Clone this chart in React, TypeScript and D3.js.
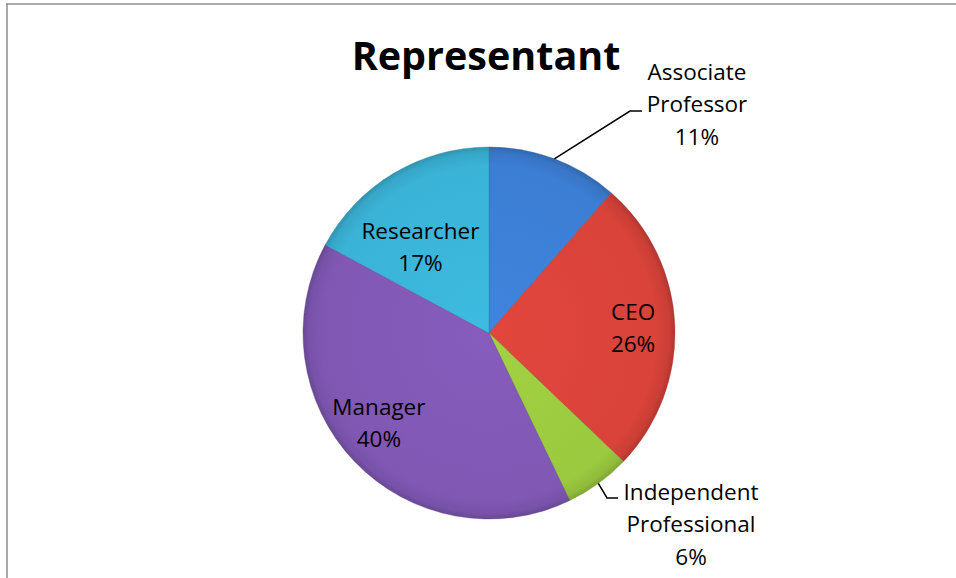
import React from "react";
import * as d3 from "d3";

const categories = ["Associate Professor", "CEO", "Independent Professional", "Manager", "Researcher"];
const counts = [4, 9, 2, 14, 6];
const percentLabels = ["11%", "26%", "6%", "40%", "17%"];
const labelLines = [["Associate", "Professor"], ["CEO"], ["Independent", "Professional"], ["Manager"], ["Researcher"]];
const colors = ["#3C7ED4", "#D9433A", "#9BC93F", "#8058B4", "#3AB3D7"];
const title = "Representant";

const W = 956;
const H = 578;
const cx = 489;
const cy = 333;
const R = 186;
const FONT = "'Open Sans', 'Noto Sans', sans-serif";

// label layout (style config): inside labels by polar offset from slice middle,
// outside labels by block position with a leader line
const inside: Record<string, { rf: number; da: number }> = {
  CEO: { rf: 0.775, da: 0.6 },
  Manager: { rf: 0.765, da: 4.4 },
  Researcher: { rf: 0.59, da: -7.8 },
};
const outside: Record<string, { x: number; b1: number; elbow: [number, number]; end: number }> = {
  "Associate Professor": { x: 697, b1: 80, elbow: [630, 111], end: 642 },
  "Independent Professional": { x: 691, b1: 500, elbow: [607, 498], end: 618 },
};

export default function App() {
  const pie = d3.pie<number>().sort(null).value((d) => d);
  const arcs = pie(counts);
  const arcGen = d3.arc<d3.PieArcDatum<number>>().innerRadius(0).outerRadius(R);

  return (
    <svg
      width={W}
      height={H}
      style={{ position: "absolute", left: 0, top: 0, background: "#fff" }}
      fontFamily={FONT}
    >
      <defs>
        {colors.map((c, i) => {
          const base = d3.color(c)!;
          return (
            <radialGradient key={i} id={`g${i}`} gradientUnits="userSpaceOnUse" cx={0} cy={0} r={R}>
              <stop offset="0%" stopColor={base.brighter(0.12).toString()} />
              <stop offset="90%" stopColor={c} />
              <stop offset="97%" stopColor={base.darker(0.2).toString()} />
              <stop offset="100%" stopColor={base.darker(0.55).toString()} />
            </radialGradient>
          );
        })}
      </defs>
      <rect x={0} y={0} width={W} height={H} fill="#fff" />
      <line x1={6} y1={4} x2={W} y2={4} stroke="#8c8c8c" strokeWidth={1.5} />
      <line x1={7} y1={4} x2={7} y2={H} stroke="#8c8c8c" strokeWidth={1.5} />

      <text x={486} y={70} textAnchor="middle" fontSize={39.5} fontWeight="bold" fill="#000">
        {title}
      </text>

      <g transform={`translate(${cx},${cy})`}>
        {arcs.map((a, i) => (
          <path
            key={i}
            d={arcGen(a) || ""}
            fill={`url(#g${i})`}
            stroke={d3.color(colors[i])!.darker(0.8).toString()}
            strokeOpacity={0.5}
            strokeWidth={0.8}
          />
        ))}
      </g>

      {arcs.map((a, i) => {
        const name = categories[i];
        const lines = [...labelLines[i], percentLabels[i]];
        const mid = (a.startAngle + a.endAngle) / 2;
        if (inside[name]) {
          const { rf, da } = inside[name];
          const ang = mid + (da * Math.PI) / 180;
          const lx = cx + R * rf * Math.sin(ang);
          const ly = cy - R * rf * Math.cos(ang);
          return (
            <text key={i} textAnchor="middle" fontSize={22.5} fill="#000">
              {lines.map((t, j) => (
                <tspan key={j} x={lx} y={ly - 8 + j * 32}>
                  {t}
                </tspan>
              ))}
            </text>
          );
        }
        const o = outside[name];
        const ex = cx + R * Math.sin(mid);
        const ey = cy - R * Math.cos(mid);
        return (
          <g key={i}>
            <polyline
              points={`${ex},${ey} ${o.elbow[0]},${o.elbow[1]} ${o.end},${o.elbow[1]}`}
              fill="none"
              stroke="#000"
              strokeWidth={1.5}
            />
            <text textAnchor="middle" fontSize={22.5} fill="#000">
              {lines.map((t, j) => (
                <tspan key={j} x={o.x} y={o.b1 + j * 32.3}>
                  {t}
                </tspan>
              ))}
            </text>
          </g>
        );
      })}
    </svg>
  );
}
